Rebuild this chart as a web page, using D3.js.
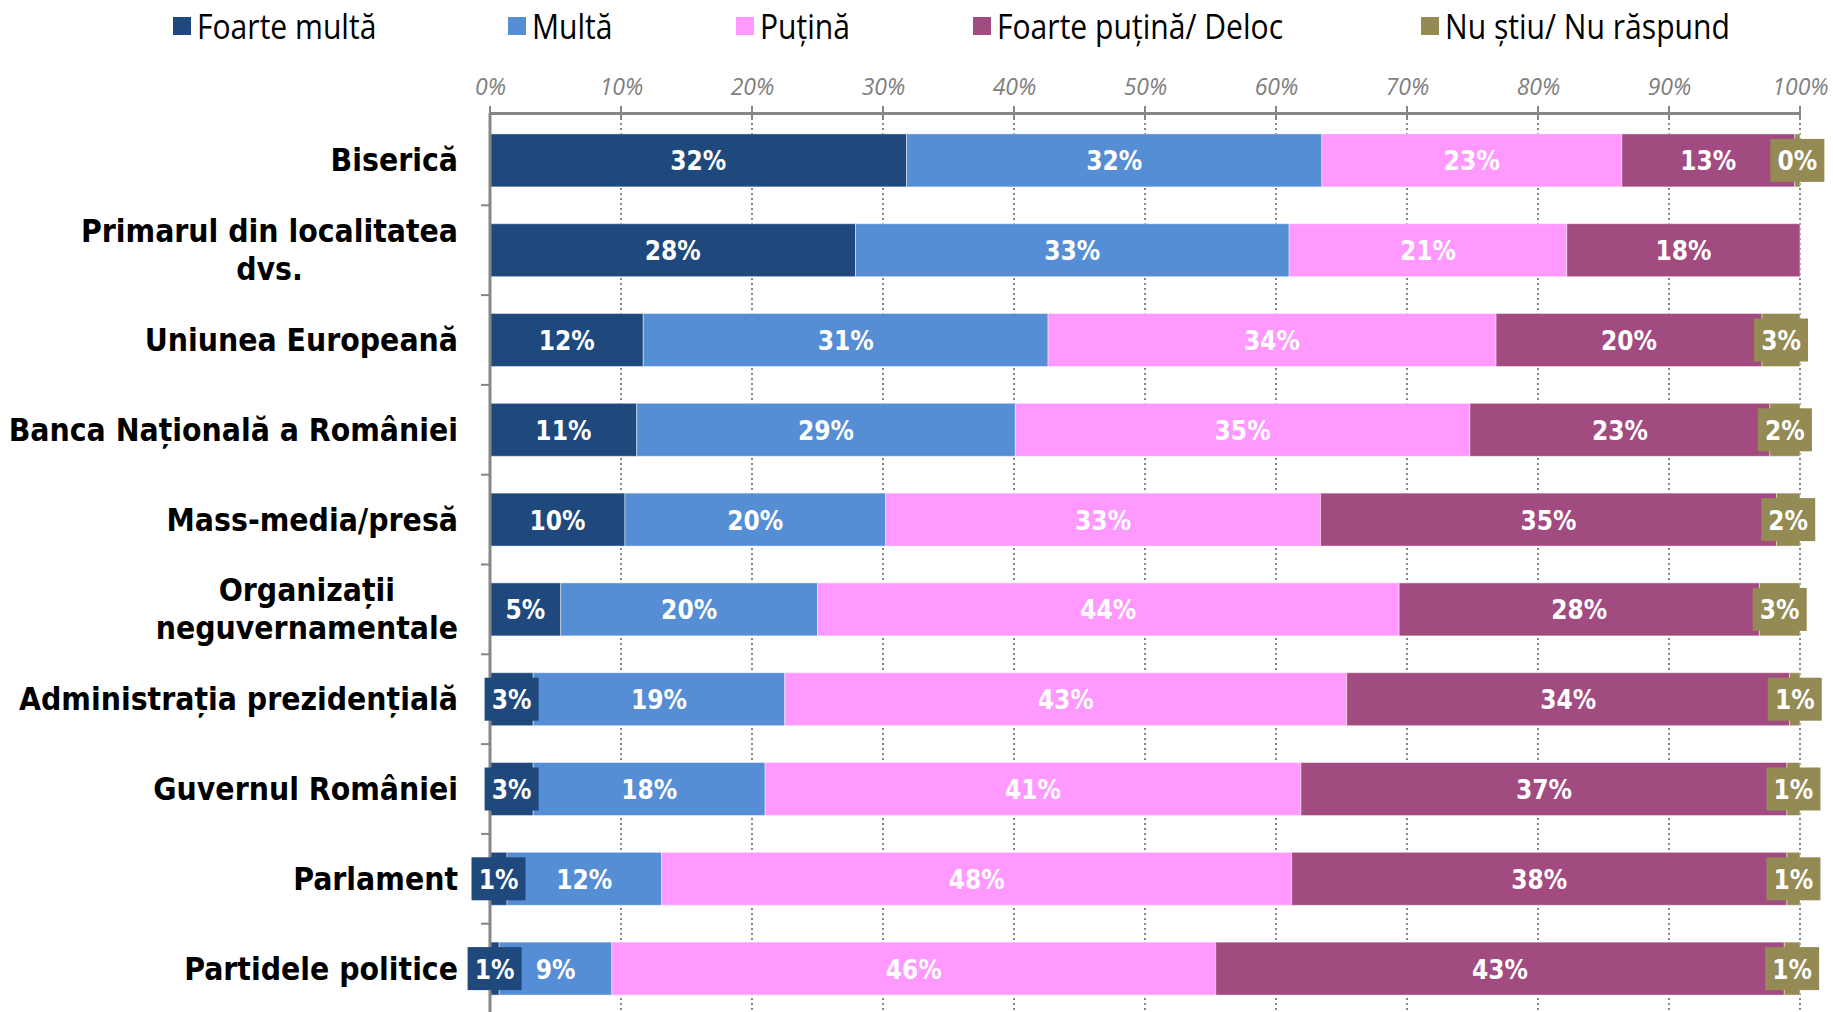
<!DOCTYPE html>
<html>
<head>
<meta charset="utf-8">
<script src="https://cdn.jsdelivr.net/npm/d3@7"></script>
<style>
  html, body { margin: 0; padding: 0; background: #fff; }
  svg { display: block; }
</style>
</head>
<body>
<svg id="chart" width="1833" height="1012"></svg>
<script>
// ---------- DATA ----------
const categories = [
  ["Biserică"],
  ["Primarul din localitatea", "dvs."],
  ["Uniunea Europeană"],
  ["Banca Națională a României"],
  ["Mass-media/presă"],
  ["Organizații", "neguvernamentale"],
  ["Administrația prezidențială"],
  ["Guvernul României"],
  ["Parlament"],
  ["Partidele politice"]
];
const seriesNames = ["Foarte multă", "Multă", "Puțină", "Foarte puțină/ Deloc", "Nu știu/ Nu răspund"];
const seriesColors = ["#1F497D", "#558ED5", "#FF99FF", "#A24B80", "#948A54"];

const foarteMulta   = [31.8, 27.9, 11.7, 11.2, 10.3, 5.4, 3.3, 3.3, 1.3, 0.7];
const multa         = [31.7, 33.1, 30.9, 28.9, 19.9, 19.6, 19.2, 17.7, 11.8, 8.6];
const putina        = [22.9, 21.2, 34.2, 34.7, 33.2, 44.4, 42.9, 40.9, 48.1, 46.1];
const foartePutina  = [13.2, 17.8, 20.3, 22.9, 34.8, 27.5, 33.8, 37.1, 37.8, 43.4];
const nuStiu        = [0.4, null, 2.9, 2.3, 1.8, 3.1, 0.8, 1.0, 1.0, 1.2];

const labelsFM  = ["32%", "28%", "12%", "11%", "10%", "5%", "3%", "3%", "1%", "1%"];
const labelsM   = ["32%", "33%", "31%", "29%", "20%", "20%", "19%", "18%", "12%", "9%"];
const labelsP   = ["23%", "21%", "34%", "35%", "33%", "44%", "43%", "41%", "48%", "46%"];
const labelsFP  = ["13%", "18%", "20%", "23%", "35%", "28%", "34%", "37%", "38%", "43%"];
const labelsNS  = ["0%", null, "3%", "2%", "2%", "3%", "1%", "1%", "1%", "1%"];

const tickValues = [0, 10, 20, 30, 40, 50, 60, 70, 80, 90, 100];

// ---------- LAYOUT ----------
const svg = d3.select("#chart");
const X0 = 490, X1 = 1800, Y0 = 113, Y1 = 1011;
const LABEL_FONT = "'DejaVu Sans Condensed', 'DejaVu Sans', sans-serif";
const LEGEND_FONT = "'Liberation Sans Narrow', 'Open Sans', sans-serif";

const x = d3.scaleLinear().domain([0, 100]).range([X0, X1]);
const y = d3.scaleBand().domain(d3.range(categories.length)).range([Y0 + 2.5, Y1 + 2.5]).paddingInner(0.41).paddingOuter(0.205);

const allValues = [foarteMulta, multa, putina, foartePutina, nuStiu];
const allLabels = [labelsFM, labelsM, labelsP, labelsFP, labelsNS];

const rows = categories.map((c, i) => {
  let acc = 0;
  return allValues.map((arr, s) => {
    const v = arr[i] || 0;
    const seg = { i, s, x0: acc, x1: acc + v, v, label: allLabels[s][i] };
    acc += v;
    return seg;
  });
});
const segs = rows.flat();

// gridlines (dotted)
svg.append("g").selectAll("line")
  .data(tickValues.filter(t => t > 0))
  .join("line")
  .attr("x1", d => x(d)).attr("x2", d => x(d))
  .attr("y1", Y0).attr("y2", 1012)
  .attr("stroke", "#868686").attr("stroke-width", 2)
  .attr("stroke-dasharray", "2,3");

// bars
svg.append("g").selectAll("rect")
  .data(segs.filter(d => d.v > 0))
  .join("rect")
  .attr("x", d => x(d.x0))
  .attr("y", d => y(d.i))
  .attr("width", d => x(d.x1) - x(d.x0))
  .attr("height", y.bandwidth())
  .attr("fill", d => seriesColors[d.s])
  .attr("stroke", "rgba(255,255,255,0.45)")
  .attr("stroke-width", 1);

// top axis
const xAxis = d3.axisTop(x).tickValues(tickValues).tickFormat(d => d + "%").tickSize(0).tickPadding(18);
const gx = svg.append("g").attr("transform", `translate(0,${Y0})`).call(xAxis);
gx.select(".domain").attr("stroke", "#868686").attr("stroke-width", 3);
gx.selectAll(".tick text")
  .attr("fill", "#7F7F7F")
  .style("font-family", LEGEND_FONT)
  .style("font-style", "italic")
  .style("font-size", "23px");
// cross ticks on top axis
svg.append("g").selectAll("line")
  .data(tickValues)
  .join("line")
  .attr("x1", d => x(d)).attr("x2", d => x(d))
  .attr("y1", Y0 - 7).attr("y2", Y0 + 6)
  .attr("stroke", "#868686").attr("stroke-width", 2);

// left axis line with category boundary ticks
svg.append("line")
  .attr("x1", X0).attr("x2", X0).attr("y1", Y0).attr("y2", 1012)
  .attr("stroke", "#868686").attr("stroke-width", 3);
svg.append("g").selectAll("line")
  .data(d3.range(1, categories.length).map(k => y(k) - y.step() * y.paddingInner() / 2))
  .join("line")
  .attr("x1", X0 - 9).attr("x2", X0)
  .attr("y1", d => d).attr("y2", d => d)
  .attr("stroke", "#868686").attr("stroke-width", 2);

// category labels
const catG = svg.append("g")
  .style("font-family", LABEL_FONT)
  .style("font-weight", "bold")
  .style("font-size", "31.6px")
  .attr("fill", "#000");
const RIGHT = 458;
categories.forEach((lines, i) => {
  const cy = y(i) + y.bandwidth() / 2;
  if (lines.length === 1) {
    catG.append("text").attr("x", RIGHT).attr("y", cy)
      .attr("text-anchor", "end").attr("dominant-baseline", "central").text(lines[0]);
  } else {
    const texts = lines.map((t, k) => catG.append("text")
      .attr("y", cy + (k - (lines.length - 1) / 2) * 38)
      .attr("dominant-baseline", "central").attr("text-anchor", "middle").text(t));
    const maxW = d3.max(texts, t => t.node().getComputedTextLength());
    texts.forEach(t => t.attr("x", RIGHT - maxW / 2));
  }
});

// data labels
const lblG = svg.append("g")
  .style("font-family", LABEL_FONT)
  .style("font-weight", "bold")
  .style("font-size", "26px");
segs.filter(d => d.label).forEach(d => {
  const cx = (x(d.x0) + x(d.x1)) / 2;
  const cy = y(d.i) + y.bandwidth() / 2;
  const boxed = (d.s === 0 || d.s === 4) && d.v < 4;
  if (boxed) {
    lblG.append("rect")
      .attr("x", cx - 27).attr("y", cy - 21.5)
      .attr("width", 54).attr("height", 43)
      .attr("fill", seriesColors[d.s]);
  }
  lblG.append("text")
    .attr("x", cx).attr("y", cy + 1)
    .attr("text-anchor", "middle").attr("dominant-baseline", "central")
    .attr("fill", "#fff").text(d.label);
});

// legend (narrow, tall lettering)
const legendX = [173, 508, 736, 973, 1421];
const lg = svg.append("g");
seriesNames.forEach((n, s) => {
  lg.append("rect").attr("x", legendX[s]).attr("y", 17).attr("width", 18).attr("height", 18).attr("fill", seriesColors[s]);
  lg.append("text")
    .attr("transform", `translate(${legendX[s] + 24},26) scale(0.86,1)`)
    .attr("dominant-baseline", "central")
    .style("font-family", LEGEND_FONT).style("font-size", "35px")
    .attr("fill", "#000").text(n);
});
</script>
</body>
</html>
